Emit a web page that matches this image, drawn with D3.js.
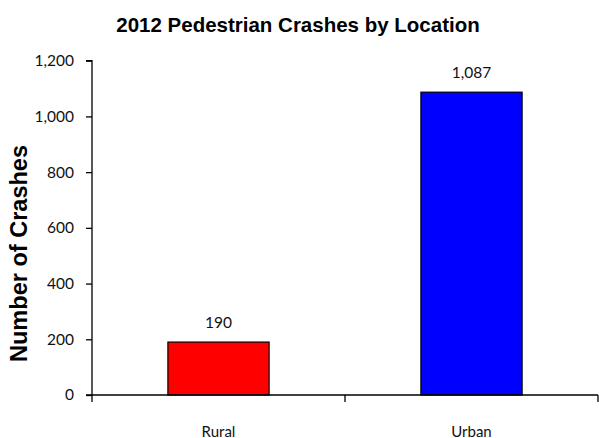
<!DOCTYPE html>
<html>
<head>
<meta charset="utf-8">
<script src="https://cdn.jsdelivr.net/npm/d3@7"></script>
<style>
html,body{margin:0;padding:0;background:#fff;}
svg{display:block;}
</style>
</head>
<body>
<svg id="chart" width="599" height="438"></svg>
<script>
const title = "2012 Pedestrian Crashes by Location";
const yAxisTitle = "Number of Crashes";
const categories = ["Rural", "Urban"];
const values = [190, 1087];
const barColors = ["#ff0000", "#0000ff"];
const yTicks = [0, 200, 400, 600, 800, 1000, 1200];

(function () {
const svg = d3.select("#chart");
const mLeft = 92, mRight = 598, mTop = 60.7, mBottom = 395;

const x = d3.scaleBand().domain(categories).range([mLeft, mRight]).paddingInner(0.6).paddingOuter(0.3);
const y = d3.scaleLinear().domain([0, 1200]).range([mBottom, mTop]);
const fmt = d3.format(",");
const numFont = "Lato, 'Open Sans', sans-serif";

// title
svg.append("text")
  .attr("x", 298).attr("y", 32)
  .attr("text-anchor", "middle")
  .style("font-family", "Arial, 'Liberation Sans', sans-serif")
  .style("font-weight", "bold").style("font-size", "20.5px")
  .text(title);

// y axis title
svg.append("text")
  .attr("transform", `translate(27,${(145+362)/2}) rotate(-90)`)
  .attr("text-anchor", "middle")
  .attr("textLength", 217).attr("lengthAdjust", "spacingAndGlyphs")
  .style("font-family", "Arial, 'Liberation Sans', sans-serif")
  .style("font-weight", "bold").style("font-size", "24px")
  .text(yAxisTitle);

// bars
svg.append("g").selectAll("rect").data(values).join("rect")
  .attr("x", (d, i) => x(categories[i]))
  .attr("y", d => y(d))
  .attr("width", x.bandwidth())
  .attr("height", d => mBottom - y(d))
  .attr("fill", (d, i) => barColors[i])
  .attr("stroke", "#000").attr("stroke-width", 1.2);

// value labels
svg.append("g").selectAll("text").data(values).join("text")
  .attr("x", (d, i) => x(categories[i]) + x.bandwidth() / 2)
  .attr("y", d => y(d) - 14)
  .attr("text-anchor", "middle")
  .style("font-family", numFont).style("font-size", "15.5px").style("fill", "#111")
  .text(d => fmt(d));

// y axis
const yAxis = d3.axisLeft(y).tickValues(yTicks).tickFormat(fmt).tickSize(6).tickPadding(12);
const gy = svg.append("g").attr("transform", `translate(${mLeft},0)`).call(yAxis);
gy.select(".domain").attr("stroke", "#000").attr("stroke-width", 1.3).attr("d", `M-6,${mTop}H0V${mBottom}`);
gy.selectAll(".tick line").attr("stroke", "#000").attr("stroke-width", 1.3);
gy.selectAll(".tick text").style("font-family", numFont).style("font-size", "15.5px").style("fill", "#111");

// x axis: boundary ticks between categories
const xb = d3.scaleLinear().domain([0, categories.length]).range([mLeft, mRight]);
const gx = svg.append("g").attr("transform", `translate(0,${mBottom})`);
gx.append("line").attr("x1", mLeft - 6).attr("x2", mRight).attr("y1", 0).attr("y2", 0)
  .attr("stroke", "#000").attr("stroke-width", 1.3);
gx.selectAll("line.tk").data(d3.range(categories.length + 1)).join("line").attr("class", "tk")
  .attr("x1", d => xb(d)).attr("x2", d => xb(d)).attr("y1", 0).attr("y2", 7)
  .attr("stroke", "#000").attr("stroke-width", 1.3);
gx.selectAll("text").data(categories).join("text")
  .attr("x", d => x(d) + x.bandwidth() / 2).attr("y", 41.5)
  .attr("text-anchor", "middle")
  .style("font-family", numFont).style("font-size", "15px").style("fill", "#111")
  .text(d => d);
})();
</script>
</body>
</html>
